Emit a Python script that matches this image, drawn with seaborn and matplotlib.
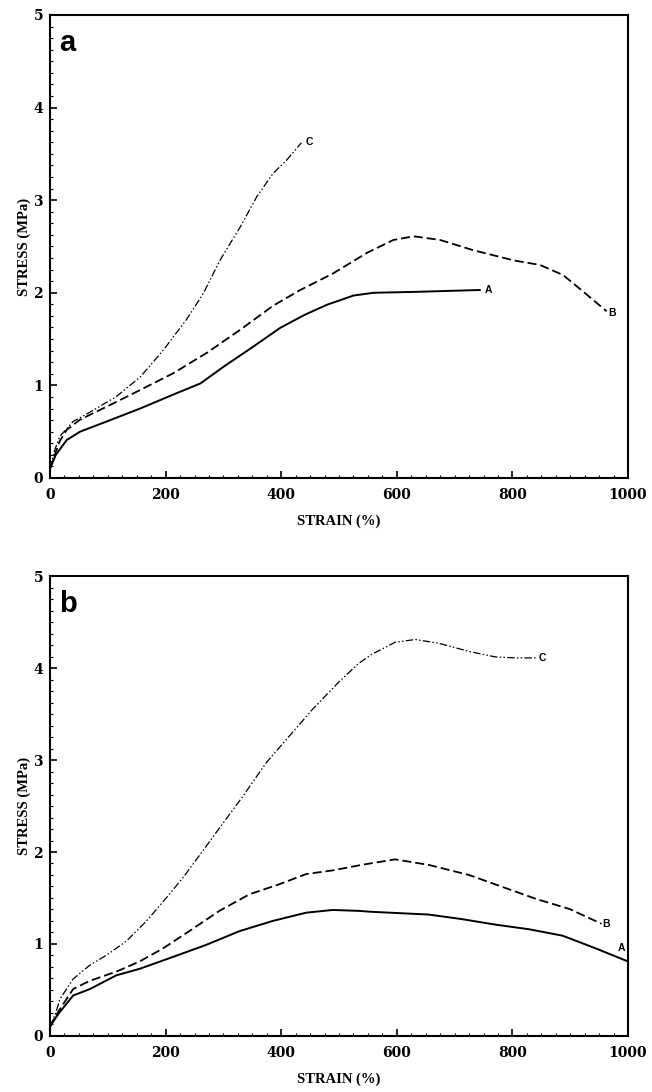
import numpy as np
import pandas as pd
import seaborn as sns
import matplotlib
matplotlib.use("Agg")
import matplotlib.pyplot as plt
from matplotlib.ticker import MultipleLocator

# ---------------- data ----------------
# panel a
a_A_strain = [0, 10, 29, 52, 98, 156, 213, 260, 300, 352, 398, 440, 479, 525, 560, 634, 744]
a_A_stress = [0.10, 0.25, 0.41, 0.50, 0.61, 0.75, 0.90, 1.02, 1.20, 1.42, 1.62, 1.76, 1.87, 1.97, 2.00, 2.01, 2.03]

a_B_strain = [0, 10, 17, 29, 52, 98, 156, 213, 271, 329, 386, 433, 490, 548, 594, 629, 675, 732, 802, 848, 888, 923, 963]
a_B_stress = [0.10, 0.28, 0.40, 0.52, 0.63, 0.77, 0.95, 1.13, 1.35, 1.60, 1.86, 2.03, 2.21, 2.43, 2.57, 2.61, 2.57, 2.46, 2.35, 2.30, 2.19, 2.01, 1.80]

a_C_strain = [0, 8, 17, 40, 69, 115, 156, 196, 236, 265, 294, 329, 358, 386, 409, 435]
a_C_stress = [0.10, 0.30, 0.45, 0.61, 0.71, 0.88, 1.09, 1.38, 1.71, 1.99, 2.35, 2.71, 3.04, 3.29, 3.43, 3.62]

# panel b
b_A_strain = [0, 10, 17, 40, 69, 115, 155, 213, 270, 328, 385, 443, 489, 534, 556, 655, 713, 771, 829, 887, 945, 1000]
b_A_stress = [0.10, 0.20, 0.26, 0.44, 0.51, 0.66, 0.73, 0.86, 0.99, 1.14, 1.25, 1.34, 1.37, 1.36, 1.35, 1.32, 1.27, 1.21, 1.16, 1.09, 0.95, 0.81]

b_B_strain = [0, 10, 17, 40, 69, 115, 155, 195, 241, 293, 345, 397, 443, 489, 539, 597, 655, 725, 783, 841, 899, 954]
b_B_stress = [0.10, 0.22, 0.29, 0.51, 0.60, 0.70, 0.81, 0.95, 1.14, 1.36, 1.54, 1.65, 1.76, 1.80, 1.86, 1.92, 1.86, 1.75, 1.62, 1.49, 1.38, 1.22]

b_C_strain = [0, 10, 17, 40, 69, 98, 132, 167, 201, 230, 264, 299, 333, 374, 414, 454, 500, 534, 557, 597, 632, 672, 725, 771, 806, 840]
b_C_stress = [0.10, 0.25, 0.40, 0.62, 0.77, 0.88, 1.03, 1.25, 1.50, 1.72, 2.01, 2.31, 2.60, 2.97, 3.26, 3.55, 3.85, 4.05, 4.15, 4.28, 4.31, 4.27, 4.18, 4.12, 4.11, 4.11]

samples = ["A", "B", "C"]
panel_letters = ["a", "b"]
x_ticks = [0, 200, 400, 600, 800, 1000]
y_ticks = [0, 1, 2, 3, 4, 5]
x_label = "STRAIN (%)"
y_label = "STRESS (MPa)"

# end-label positions (strain, stress) per panel/sample
a_labels = {"A": (752, 2.03), "B": (966, 1.78), "C": (442, 3.63)}
b_labels = {"A": (982, 0.96), "B": (956, 1.22), "C": (845, 4.11)}

# ---------------- build long tables ----------------
def make_df(series):
    rows = []
    for s, (xs, ys) in series.items():
        for x, y in zip(xs, ys):
            rows.append({"sample": s, "strain": x, "stress": y})
    return pd.DataFrame(rows)

df_a = make_df({"A": (a_A_strain, a_A_stress), "B": (a_B_strain, a_B_stress), "C": (a_C_strain, a_C_stress)})
df_b = make_df({"A": (b_A_strain, b_A_stress), "B": (b_B_strain, b_B_stress), "C": (b_C_strain, b_C_stress)})

sns.set_style("ticks")
plt.rcParams["font.family"] = ["DejaVu Serif", "DejaVu Sans"]
plt.rcParams["text.color"] = "black"
plt.rcParams["axes.labelcolor"] = "black"
plt.rcParams["xtick.color"] = "black"
plt.rcParams["ytick.color"] = "black"

fig = plt.figure(figsize=(6.52, 10.92), dpi=100)
ax_a = fig.add_axes([0.0767, 0.5623, 0.8865, 0.4240])
ax_b = fig.add_axes([0.0767, 0.0513, 0.8865, 0.4212])

styles = {
    "A": dict(linestyle="-", lw=1.4),
    "B": dict(linestyle=(0, (5, 2.2)), lw=1.3),
    "C": dict(linestyle=(0, (6, 1.8, 1.2, 1.8, 1.2, 1.8)), lw=0.9),
}

for ax, df, labels, letter in [(ax_a, df_a, a_labels, "a"), (ax_b, df_b, b_labels, "b")]:
    for s in samples:
        sub = df[df["sample"] == s]
        sns.lineplot(data=sub, x="strain", y="stress", ax=ax, color="black",
                     sort=False, estimator=None, legend=False, **styles[s])
        lx, ly = labels[s]
        ax.text(lx, ly, s, fontsize=7.5, fontweight="bold", family="Liberation Sans",
                ha="left", va="center", color="black")
    ax.set_xlim(0, 1000)
    ax.set_ylim(0, 5)
    ax.set_xticks(x_ticks)
    ax.set_yticks(y_ticks)
    ax.xaxis.set_minor_locator(MultipleLocator(25))
    ax.yaxis.set_minor_locator(MultipleLocator(0.125))
    ax.tick_params(axis="x", which="major", pad=7)
    ax.tick_params(axis="y", which="major", pad=5)
    ax.tick_params(which="major", direction="in", length=5, width=1.2,
                   labelsize=10, top=False, right=False, colors="black")
    ax.tick_params(which="minor", direction="in", length=2.5, width=0.8,
                   top=False, right=False, colors="black")
    for lab in ax.get_xticklabels() + ax.get_yticklabels():
        lab.set_fontweight("bold")
        lab.set_family("DejaVu Serif")
    for sp in ax.spines.values():
        sp.set_visible(True)
        sp.set_linewidth(1.5)
        sp.set_color("black")
    ax.set_xlabel(x_label, fontsize=10.5, fontweight="bold", family="Liberation Serif",
                  labelpad=9, color="black")
    ax.set_ylabel(y_label, fontsize=10.5, fontweight="bold", family="Liberation Serif",
                  labelpad=2, color="black")
    ax.text(0.015, 0.94, letter, transform=ax.transAxes, fontsize=21, fontweight="bold",
            family="Liberation Sans", ha="left", va="center", color="black")

fig.savefig("out.png", dpi=100)
